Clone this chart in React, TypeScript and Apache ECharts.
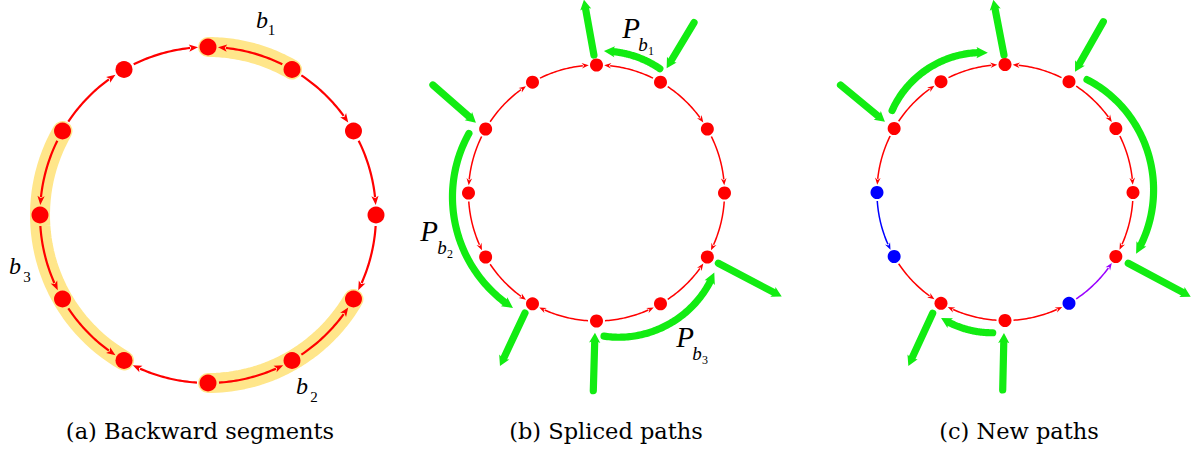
import React, { useEffect, useRef } from "react";
import * as echarts from "echarts";

// ---------- data ----------
// node layout on a unit circle (index 0 at top, going clockwise)
const nodeX = [0, 0.5, 0.866, 1, 0.866, 0.5, 0, -0.5, -0.866, -1, -0.866, -0.5];
const nodeY = [1, 0.866, 0.5, 0, -0.5, -0.866, -1, -0.866, -0.5, 0, 0.5, 0.866];
// directed edges [from, to]
const edges = [
  [11, 0], [1, 0], [1, 2], [2, 3], [3, 4], [5, 4],
  [6, 5], [6, 7], [8, 7], [9, 8], [10, 9], [10, 11],
];
// backward segments of panel (a): node sequences
const backwardSegments = [[1, 0], [6, 5, 4], [10, 9, 8, 7]];
// panel (c) node / edge kinds: r = red, b = blue, p = purple
const nodeKindC = ["r", "r", "r", "r", "r", "b", "r", "r", "b", "b", "r", "r"];
const edgeKindC = ["r", "r", "r", "r", "r", "p", "r", "r", "r", "b", "r", "r"];
// green straight arrows [x1, y1, x2(tip), y2(tip)] in unit-circle coordinates
const stubsB = [
  [-0.02, 1.078, -0.098, 1.51],
  [0.762, 1.331, 0.548, 0.975],
  [-1.278, 0.844, -0.942, 0.549],
  [-0.559, -0.938, -0.754, -1.352],
  [-0.025, -1.545, -0.012, -1.092],
  [0.952, -0.549, 1.447, -0.809],
];
const stubsC = [
  [-0.008, 1.074, -0.091, 1.505],
  [0.768, 1.334, 0.547, 0.944],
  [-1.285, 0.84, -0.938, 0.553],
  [-0.565, -0.944, -0.755, -1.355],
  [-0.018, -1.543, -0.008, -1.098],
  [0.963, -0.553, 1.451, -0.814],
];
// green curved arrows [startAngle, endAngle(tip), rStart, rMid, rEnd]
const arcsB = [
  [63, 87, 1.09, 1.11, 1.11],
  [155, 234, 1.1, 1.13, 1.11],
  [-87, -34, 1.12, 1.17, 1.11],
];
const arcsC = [
  [54, -25, 1.09, 1.16, 1.13],
  [144, 97, 1.09, 1.14, 1.1],
  [265, 243, 1.1, 1.11, 1.1],
];
const captions = ["(a) Backward segments", "(b) Spliced paths", "(c) New paths"];
const segmentNames = ["1", "2", "3"];

// ---------- layout / styles ----------
const W = 1194;
const H = 454;
const PANELS = [
  { left: 0, width: 400, cx: 208, cy: 215, r: 168 },
  { left: 400, width: 400, cx: 596.5, cy: 193, r: 128 },
  { left: 800, width: 394, cx: 1005, cy: 192.5, r: 128 },
];
const ST = [
  { node: 17, lw: 2.2, head: 8, hw: 3.6, gapS: 2.5, gapE: 1.5 },
  { node: 13, lw: 1.5, head: 6, hw: 2.8, gapS: 2, gapE: 1.2 },
  { node: 13, lw: 1.5, head: 6, hw: 2.8, gapS: 2, gapE: 1.2 },
];
const RED = "#ff0000";
const BLUE = "#0000ff";
const PURPLE = "#9a00ff";
const GREEN = "#12ec12";
const YELLOW = "#ffe68a";
const colorOf = (k: string) => (k === "b" ? BLUE : k === "p" ? PURPLE : RED);

const ang = (i: number) => Math.atan2(nodeY[i], nodeX[i]);
const norm = (d: number) => {
  while (d > Math.PI) d -= 2 * Math.PI;
  while (d < -Math.PI) d += 2 * Math.PI;
  return d;
};

function headPoly(tip: number[], base: number[], hw: number) {
  const dx = tip[0] - base[0];
  const dy = tip[1] - base[1];
  const L = Math.hypot(dx, dy) || 1;
  const nx = -dy / L;
  const ny = dx / L;
  return [
    tip,
    [base[0] + nx * hw - (dx / L) * 1, base[1] + ny * hw - (dy / L) * 1],
    [base[0] + (dx / L) * 1.2, base[1] + (dy / L) * 1.2],
    [base[0] - nx * hw - (dx / L) * 1, base[1] - ny * hw - (dy / L) * 1],
  ];
}

function pxPerUnit(api: any) {
  return api.coord([1, 0])[0] - api.coord([0, 0])[0];
}

function edgeRender(p: number) {
  const st = ST[p];
  return (params: any, api: any) => {
    const [i, j] = edges[params.dataIndex];
    const color = p === 2 ? colorOf(edgeKindC[params.dataIndex]) : RED;
    const u = pxPerUnit(api);
    const a1 = ang(i);
    const d = norm(ang(j) - a1);
    const s = Math.sign(d);
    const rad = st.node / 2;
    const t0 = a1 + (s * (rad + st.gapS)) / u;
    const tTip = a1 + d - (s * (rad + st.gapE)) / u;
    const tBase = tTip - (s * st.head) / u;
    const pts: number[][] = [];
    const N = 24;
    for (let k = 0; k <= N; k++) {
      const t = t0 + ((tBase - t0) * k) / N;
      pts.push(api.coord([Math.cos(t), Math.sin(t)]));
    }
    const tip = api.coord([Math.cos(tTip), Math.sin(tTip)]);
    const base = pts[pts.length - 1];
    return {
      type: "group",
      children: [
        { type: "polyline", shape: { points: pts }, style: { stroke: color, lineWidth: st.lw, fill: null } },
        { type: "polygon", shape: { points: headPoly(tip, base, st.hw) }, style: { fill: color } },
      ],
    };
  };
}

function highlightRender(params: any, api: any) {
  const seq = backwardSegments[params.dataIndex];
  const angles = [ang(seq[0])];
  for (let k = 1; k < seq.length; k++) {
    angles.push(angles[k - 1] + norm(ang(seq[k]) - ang(seq[k - 1])));
  }
  const a0 = angles[0];
  const a1 = angles[angles.length - 1];
  const pts: number[][] = [];
  const N = 40;
  for (let k = 0; k <= N; k++) {
    const t = a0 + ((a1 - a0) * k) / N;
    pts.push(api.coord([Math.cos(t), Math.sin(t)]));
  }
  return {
    type: "polyline",
    shape: { points: pts },
    style: { stroke: YELLOW, lineWidth: 20, lineCap: "round", lineJoin: "round", fill: null },
  };
}

const GW = 7.2;
const GHEAD = 9;
const GHW = 5.6;

function stubRender(list: number[][]) {
  return (params: any, api: any) => {
    const [x1, y1, x2, y2] = list[params.dataIndex];
    const p1 = api.coord([x1, y1]);
    const tip = api.coord([x2, y2]);
    const dx = tip[0] - p1[0];
    const dy = tip[1] - p1[1];
    const L = Math.hypot(dx, dy);
    const base = [tip[0] - (dx / L) * GHEAD, tip[1] - (dy / L) * GHEAD];
    return {
      type: "group",
      children: [
        { type: "line", shape: { x1: p1[0], y1: p1[1], x2: base[0], y2: base[1] }, style: { stroke: GREEN, lineWidth: GW, lineCap: "round" } },
        { type: "polygon", shape: { points: headPoly(tip, base, GHW) }, style: { fill: GREEN } },
      ],
    };
  };
}

function arcRender(list: number[][]) {
  return (params: any, api: any) => {
    const [a0, a1, r0, rm, r1] = list[params.dataIndex];
    const pts: number[][] = [];
    const N = 80;
    for (let k = 0; k <= N; k++) {
      const t = k / N;
      const r = r0 * (1 - t) * (1 - 2 * t) + 4 * rm * t * (1 - t) + r1 * t * (2 * t - 1);
      const th = ((a0 + (a1 - a0) * t) * Math.PI) / 180;
      pts.push(api.coord([r * Math.cos(th), r * Math.sin(th)]));
    }
    const tip = pts[pts.length - 1];
    let idx = pts.length - 1;
    while (idx > 0 && Math.hypot(tip[0] - pts[idx][0], tip[1] - pts[idx][1]) < GHEAD) idx--;
    const base = pts[idx];
    const line = pts.slice(0, idx + 1);
    return {
      type: "group",
      children: [
        { type: "polyline", shape: { points: line }, style: { stroke: GREEN, lineWidth: GW, lineCap: "round", lineJoin: "round", fill: null } },
        { type: "polygon", shape: { points: headPoly(tip, base, GHW) }, style: { fill: GREEN } },
      ],
    };
  };
}

function txt(text: string, x: number, y: number, size: number, italic: boolean, family: string) {
  return {
    type: "text",
    x,
    y,
    silent: true,
    style: {
      text,
      fill: "#000",
      fontSize: size,
      fontFamily: family,
      fontStyle: italic ? "italic" : "normal",
      align: "center",
      verticalAlign: "middle",
      textAlign: "center",
      textVerticalAlign: "middle",
    },
  };
}

function buildOption() {
  const grid = PANELS.map((p) => ({ left: p.left, top: 0, width: p.width, height: H }));
  const xAxis = PANELS.map((p, i) => ({
    type: "value",
    gridIndex: i,
    min: (p.left - p.cx) / p.r,
    max: (p.left + p.width - p.cx) / p.r,
    show: false,
  }));
  const yAxis = PANELS.map((p, i) => ({
    type: "value",
    gridIndex: i,
    min: -(H - p.cy) / p.r,
    max: p.cy / p.r,
    show: false,
  }));
  const series: any[] = [];
  series.push({
    type: "custom",
    xAxisIndex: 0,
    yAxisIndex: 0,
    z: 1,
    silent: true,
    renderItem: highlightRender,
    data: backwardSegments.map(() => [0, 0]),
  });
  for (let p = 0; p < 3; p++) {
    series.push({
      type: "custom",
      xAxisIndex: p,
      yAxisIndex: p,
      z: 3,
      silent: true,
      renderItem: edgeRender(p),
      data: edges.map(() => [0, 0]),
    });
    series.push({
      type: "scatter",
      xAxisIndex: p,
      yAxisIndex: p,
      z: 5,
      silent: true,
      symbol: "circle",
      symbolSize: ST[p].node,
      itemStyle: { opacity: 1 },
      data: nodeX.map((x, i) => ({
        value: [x, nodeY[i]],
        itemStyle: { color: p === 2 ? colorOf(nodeKindC[i]) : RED, opacity: 1 },
      })),
    });
  }
  const greens = [
    { p: 1, stubs: stubsB, arcs: arcsB },
    { p: 2, stubs: stubsC, arcs: arcsC },
  ];
  greens.forEach((g) => {
    series.push({
      type: "custom",
      xAxisIndex: g.p,
      yAxisIndex: g.p,
      z: 4,
      silent: true,
      renderItem: stubRender(g.stubs),
      data: g.stubs.map(() => [0, 0]),
    });
    series.push({
      type: "custom",
      xAxisIndex: g.p,
      yAxisIndex: g.p,
      z: 4,
      silent: true,
      renderItem: arcRender(g.arcs),
      data: g.arcs.map(() => [0, 0]),
    });
  });

  const M = "Liberation Serif";
  const C = "DejaVu Serif";
  const graphic: any[] = [
    txt(captions[0], 200, 431, 22.5, false, C),
    txt(captions[1], 606, 431, 22.5, false, C),
    txt(captions[2], 1019, 431, 22.5, false, C),
    // b labels
    txt("b", 262, 20, 24, true, M),
    txt(segmentNames[0], 271.5, 30, 15, false, M),
    txt("b", 302, 386, 24, true, M),
    txt(segmentNames[1], 314, 397, 15, false, M),
    txt("b", 15, 266, 24, true, M),
    txt(segmentNames[2], 27, 277, 15, false, M),
    // P labels
    txt("P", 631, 28, 29, true, M),
    txt("b", 643, 44, 19, true, M),
    txt(segmentNames[0], 651, 51, 12, false, M),
    txt("P", 429, 231, 29, true, M),
    txt("b", 442, 247, 19, true, M),
    txt(segmentNames[1], 450, 254, 12, false, M),
    txt("P", 685, 337, 29, true, M),
    txt("b", 697, 353, 19, true, M),
    txt(segmentNames[2], 705, 360, 12, false, M),
  ];

  return {
    animation: false,
    backgroundColor: "#ffffff",
    grid,
    xAxis,
    yAxis,
    series,
    graphic,
  };
}

export default function App() {
  const ref = useRef<HTMLDivElement>(null);
  useEffect(() => {
    if (!ref.current) return;
    const chart = echarts.init(ref.current, null, { renderer: "svg" });
    chart.setOption(buildOption() as any);
    return () => chart.dispose();
  }, []);
  return (
    <div
      ref={ref}
      style={{ position: "fixed", left: 0, top: 0, width: W, height: H, background: "#fff" }}
    />
  );
}
